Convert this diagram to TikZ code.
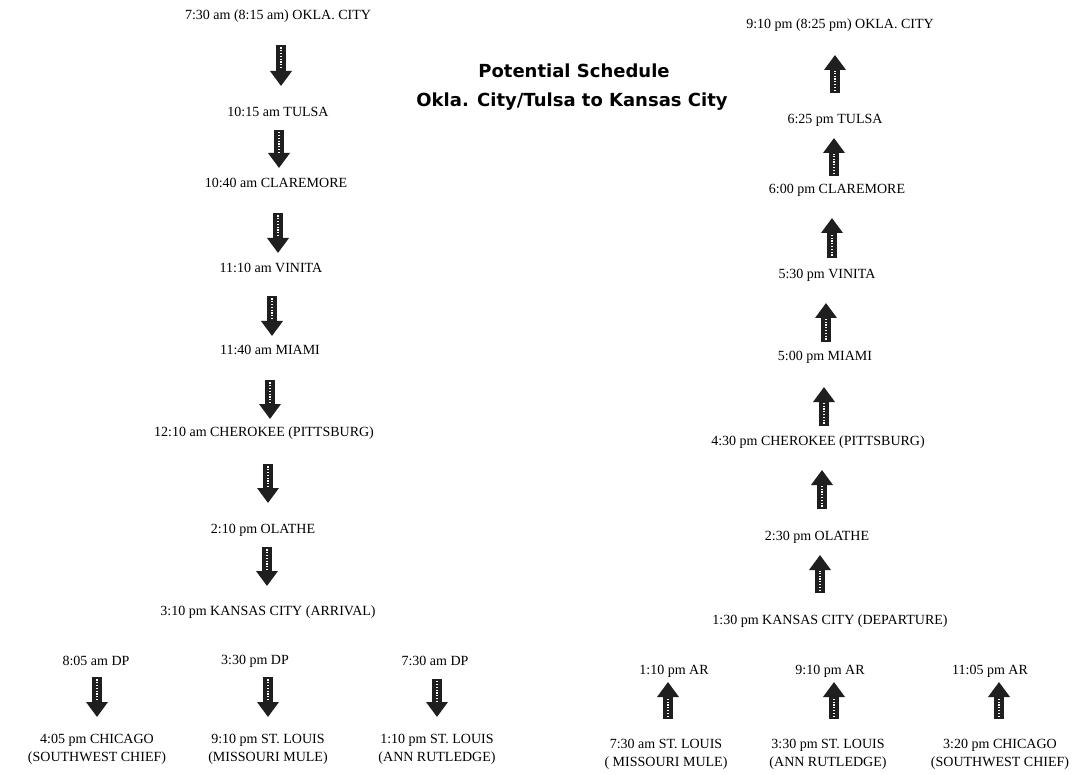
\documentclass[tikz,border=0pt]{standalone}
\usepackage{fontspec}
\setmainfont{Liberation Serif}
\newfontfamily\titlefont{DejaVu Sans}
\usetikzlibrary{arrows.meta,calc}
\tikzset{
  stop/.style={inner sep=0pt, anchor=center, align=center,
    font=\fontsize{14}{18}\selectfont},
  ttl/.style={inner sep=0pt, anchor=center,
    font=\titlefont\bfseries\fontsize{18}{20}\selectfont},
  blockarrow/.style={line width=9.5pt, draw=black!88,
    -{Triangle[width=21pt,length=15pt]}},
  stipple/.style={draw=white, line width=1.3pt, dash pattern=on 1.2pt off 1.6pt}
}
\newcommand{\blkarrow}[2]{%
  \draw[blockarrow] (#1) -- (#2);
  \draw[stipple] ($(#1)!0.06!(#2)$) -- ($(#1)!0.58!(#2)$);
}
\begin{document}
\begin{tikzpicture}[x=1pt,y=-1pt]
\fill[white] (0,0) rectangle (1076,775);
\useasboundingbox (0,0) rectangle (1076,775);

% Title
\node[ttl] (t1) at (574,71) {Potential Schedule};
\node[ttl] (t2) at (572,102) {Okla. City/Tulsa to Kansas City};

% Left column
\node[stop] (L0) at (278,16) {7:30 am (8:15 am) OKLA. CITY};
\node[stop] (L1) at (278,112) {10:15 am TULSA};
\node[stop] (L2) at (276,183) {10:40 am CLAREMORE};
\node[stop] (L3) at (271,268) {11:10 am VINITA};
\node[stop] (L4) at (270,350) {11:40 am MIAMI};
\node[stop] (L5) at (264,433) {12:10 am CHEROKEE (PITTSBURG)};
\node[stop] (L6) at (263,530) {2:10 pm OLATHE};
\node[stop] (L7) at (268,612) {3:10 pm KANSAS CITY (ARRIVAL)};

\coordinate (la1s) at (281,45);  \coordinate (la1e) at (281,86);
\coordinate (la2s) at (279,130); \coordinate (la2e) at (279,168);
\coordinate (la3s) at (278,213); \coordinate (la3e) at (278,253);
\coordinate (la4s) at (272,296); \coordinate (la4e) at (272,336);
\coordinate (la5s) at (270,380); \coordinate (la5e) at (270,419);
\coordinate (la6s) at (268,464); \coordinate (la6e) at (268,503);
\coordinate (la7s) at (267,547); \coordinate (la7e) at (267,586);
\blkarrow{la1s}{la1e}
\blkarrow{la2s}{la2e}
\blkarrow{la3s}{la3e}
\blkarrow{la4s}{la4e}
\blkarrow{la5s}{la5e}
\blkarrow{la6s}{la6e}
\blkarrow{la7s}{la7e}

% Bottom left connections
\node[stop] (d1) at (96,661) {8:05 am DP};
\node[stop] (d2) at (255,661) {3:30 pm DP};
\node[stop] (d3) at (435,661) {7:30 am DP};
\node[stop] (e1) at (97,749) {4:05 pm CHICAGO\\(SOUTHWEST CHIEF)};
\node[stop] (e2) at (268,749) {9:10 pm ST. LOUIS\\(MISSOURI MULE)};
\node[stop] (e3) at (437,749) {1:10 pm ST. LOUIS\\(ANN RUTLEDGE)};
\coordinate (lb1s) at (97,677);  \coordinate (lb1e) at (97,717);
\coordinate (lb2s) at (268,677); \coordinate (lb2e) at (268,717);
\coordinate (lb3s) at (437,679); \coordinate (lb3e) at (437,717);
\blkarrow{lb1s}{lb1e}
\blkarrow{lb2s}{lb2e}
\blkarrow{lb3s}{lb3e}

% Right column
\node[stop] (R0) at (840,25) {9:10 pm (8:25 pm) OKLA. CITY};
\node[stop] (R1) at (835,120) {6:25 pm TULSA};
\node[stop] (R2) at (837,190) {6:00 pm CLAREMORE};
\node[stop] (R3) at (827,275) {5:30 pm VINITA};
\node[stop] (R4) at (825,357) {5:00 pm MIAMI};
\node[stop] (R5) at (818,442) {4:30 pm CHEROKEE (PITTSBURG)};
\node[stop] (R6) at (817,537) {2:30 pm OLATHE};
\node[stop] (R7) at (830,621) {1:30 pm KANSAS CITY (DEPARTURE)};

\coordinate (ra1s) at (835,93);  \coordinate (ra1e) at (835,55);
\coordinate (ra2s) at (834,176); \coordinate (ra2e) at (834,138);
\coordinate (ra3s) at (832,258); \coordinate (ra3e) at (832,218);
\coordinate (ra4s) at (826,342); \coordinate (ra4e) at (826,303);
\coordinate (ra5s) at (824,426); \coordinate (ra5e) at (824,387);
\coordinate (ra6s) at (822,509); \coordinate (ra6e) at (822,470);
\coordinate (ra7s) at (820,593); \coordinate (ra7e) at (820,555);
\blkarrow{ra1s}{ra1e}
\blkarrow{ra2s}{ra2e}
\blkarrow{ra3s}{ra3e}
\blkarrow{ra4s}{ra4e}
\blkarrow{ra5s}{ra5e}
\blkarrow{ra6s}{ra6e}
\blkarrow{ra7s}{ra7e}

% Bottom right connections
\node[stop] (a1) at (674,671) {1:10 pm AR};
\node[stop] (a2) at (830,671) {9:10 pm AR};
\node[stop] (a3) at (990,671) {11:05 pm AR};
\node[stop] (f1) at (666,754) {7:30 am ST. LOUIS\\( MISSOURI MULE)};
\node[stop] (f2) at (828,754) {3:30 pm ST. LOUIS\\(ANN RUTLEDGE)};
\node[stop] (f3) at (1000,754) {3:20 pm CHICAGO\\(SOUTHWEST CHIEF)};
\coordinate (rb1s) at (668,719); \coordinate (rb1e) at (668,682);
\coordinate (rb2s) at (834,719); \coordinate (rb2e) at (834,682);
\coordinate (rb3s) at (999,719); \coordinate (rb3e) at (999,682);
\blkarrow{rb1s}{rb1e}
\blkarrow{rb2s}{rb2e}
\blkarrow{rb3s}{rb3e}
\end{tikzpicture}
\end{document}
